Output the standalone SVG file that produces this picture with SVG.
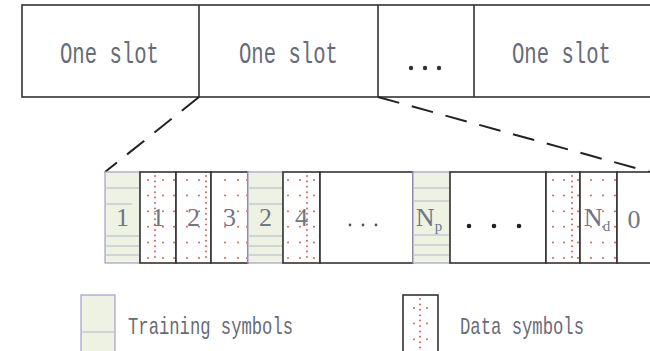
<svg xmlns="http://www.w3.org/2000/svg" width="650" height="351" viewBox="0 0 650 351">
<style>
.box{fill:#fff;stroke:#333;stroke-width:1.6}
.trn{fill:#eef2e2;stroke:#a9a3cf;stroke-width:1.3}
.tl{stroke:#b3b6c6;stroke-width:1}
.sp{stroke:#d9625c;stroke-width:2;stroke-linecap:round;stroke-dasharray:0 15.6}
.dn{stroke:#d9625c;stroke-width:2;stroke-linecap:round;stroke-dasharray:0 5.4}
.lbl{font-family:"Liberation Mono",monospace;fill:#676b78}
.num{font-family:"Liberation Serif",serif;font-size:26px;fill:#6d7788;text-anchor:middle}
.dash{stroke:#222;stroke-width:2;fill:none;stroke-dasharray:22 13}
</style>
<rect width="650" height="351" fill="#fff"/>
<g id="slot-row">
  <rect class="box" x="22" y="5" width="640" height="92"/>
  <line x1="199" y1="5" x2="199" y2="97" stroke="#333" stroke-width="1.6"/>
  <line x1="378" y1="5" x2="378" y2="97" stroke="#333" stroke-width="1.6"/>
  <line x1="474" y1="5" x2="474" y2="97" stroke="#333" stroke-width="1.6"/>
  <text class="lbl" x="60" y="63" font-size="29" textLength="99" lengthAdjust="spacingAndGlyphs">One slot</text>
  <text class="lbl" x="239" y="63" font-size="29" textLength="99" lengthAdjust="spacingAndGlyphs">One slot</text>
  <g fill="#333"><circle cx="411" cy="68" r="2.2"/><circle cx="425" cy="68" r="2.2"/><circle cx="439" cy="68" r="2.2"/></g>
  <text class="lbl" x="512" y="63" font-size="29" textLength="99" lengthAdjust="spacingAndGlyphs">One slot</text>
</g>
<g id="connectors">
  <line class="dash" x1="199" y1="97" x2="105" y2="172"/>
  <line class="dash" x1="378" y1="97" x2="650" y2="172"/>
</g>
<g id="t1">
  <rect class="trn" x="105" y="172" width="35" height="91"/>
  <g class="tl"><line x1="106" y1="188" x2="139" y2="188"/><line x1="106" y1="204" x2="132" y2="204"/><line x1="106" y1="236" x2="139" y2="236"/><line x1="106" y1="246" x2="139" y2="246"/><line x1="106" y1="255" x2="139" y2="255"/></g>
  <text class="num" x="122.5" y="226">1</text>
</g>
<g id="d1">
  <rect class="box" x="140" y="172" width="36" height="91"/>
  <line class="sp" x1="148" y1="180" x2="148" y2="259"/><line class="dn" x1="155" y1="176" x2="155" y2="261"/><line class="sp" x1="163" y1="180" x2="163" y2="259"/><line class="sp" x1="174" y1="180" x2="174" y2="259"/>
  <text class="num" x="158" y="226">1</text>
</g>
<g id="d2">
  <rect class="box" x="176" y="172" width="35" height="91"/>
  <line class="sp" x1="187" y1="180" x2="187" y2="259"/><line class="sp" x1="199" y1="180" x2="199" y2="259"/><line class="dn" x1="206" y1="176" x2="206" y2="261"/>
  <text class="num" x="193.5" y="226">2</text>
</g>
<g id="d3">
  <rect class="box" x="211" y="172" width="37" height="91"/>
  <line class="sp" x1="225" y1="180" x2="225" y2="259"/><line class="sp" x1="238" y1="180" x2="238" y2="259"/><line class="sp" x1="247" y1="180" x2="247" y2="259"/>
  <text class="num" x="229.5" y="226">3</text>
</g>
<g id="t2">
  <rect class="trn" x="248" y="172" width="35" height="91"/>
  <g class="tl"><line x1="249" y1="188" x2="282" y2="188"/><line x1="249" y1="204" x2="282" y2="204"/><line x1="249" y1="236" x2="282" y2="236"/><line x1="249" y1="246" x2="282" y2="246"/><line x1="249" y1="255" x2="282" y2="255"/></g>
  <text class="num" x="265.5" y="226">2</text>
</g>
<g id="d4">
  <rect class="box" x="283" y="172" width="37" height="91"/>
  <line class="sp" x1="288" y1="180" x2="288" y2="259"/><line class="sp" x1="300" y1="180" x2="300" y2="259"/><line class="dn" x1="307" y1="176" x2="307" y2="261"/><line class="sp" x1="314" y1="180" x2="314" y2="259"/>
  <text class="num" x="301.5" y="226">4</text>
</g>
<g id="gap1">
  <rect class="box" x="320" y="172" width="93" height="91"/>
  <g fill="#555"><circle cx="350" cy="225" r="1.4"/><circle cx="363" cy="225" r="1.4"/><circle cx="376" cy="225" r="1.4"/></g>
</g>
<g id="tNp">
  <rect class="trn" x="413" y="172" width="37" height="91"/>
  <g class="tl"><line x1="414" y1="188" x2="449" y2="188"/><line x1="414" y1="201" x2="449" y2="201"/><line x1="414" y1="235" x2="449" y2="235"/><line x1="414" y1="245" x2="449" y2="245"/><line x1="414" y1="255" x2="449" y2="255"/></g>
  <text class="num" x="429" y="226" font-size="23">N<tspan font-size="15" dy="5">p</tspan></text>
</g>
<g id="gap2">
  <rect class="box" x="450" y="172" width="96" height="91"/>
  <g fill="#222"><circle cx="469" cy="226" r="2.3"/><circle cx="494" cy="226" r="2.3"/><circle cx="519" cy="226" r="2.3"/></g>
</g>
<g id="d5">
  <rect class="box" x="546" y="172" width="34" height="91"/>
  <line class="sp" x1="553" y1="180" x2="553" y2="259"/><line class="sp" x1="564" y1="180" x2="564" y2="259"/><line class="dn" x1="572" y1="176" x2="572" y2="261"/><line class="sp" x1="578" y1="180" x2="578" y2="259"/>
</g>
<g id="dNd">
  <rect class="box" x="580" y="172" width="37" height="91"/>
  <line class="sp" x1="591" y1="180" x2="591" y2="259"/><line class="sp" x1="603" y1="180" x2="603" y2="259"/><line class="sp" x1="615" y1="180" x2="615" y2="259"/>
  <text class="num" x="597" y="226" font-size="23">N<tspan font-size="15" dy="5">d</tspan></text>
</g>
<g id="z0">
  <rect class="box" x="617" y="172" width="45" height="91"/>
  <text class="num" x="634" y="228" font-size="29">0</text>
</g>
<g id="legend-training">
  <rect class="trn" x="81" y="295" width="34" height="60"/>
  <line class="tl" x1="82" y1="332" x2="114" y2="332"/>
  <text class="lbl" x="128" y="334" font-size="24" textLength="165" lengthAdjust="spacingAndGlyphs">Training symbols</text>
</g>
<g id="legend-data">
  <rect class="box" x="403" y="295" width="35" height="60"/>
  <line class="sp" x1="414" y1="308" x2="414" y2="351"/><line class="dn" x1="420" y1="299" x2="420" y2="351"/><line class="sp" x1="427" y1="308" x2="427" y2="351"/>
  <text class="lbl" x="460" y="334" font-size="24" textLength="124" lengthAdjust="spacingAndGlyphs">Data symbols</text>
</g>
</svg>
